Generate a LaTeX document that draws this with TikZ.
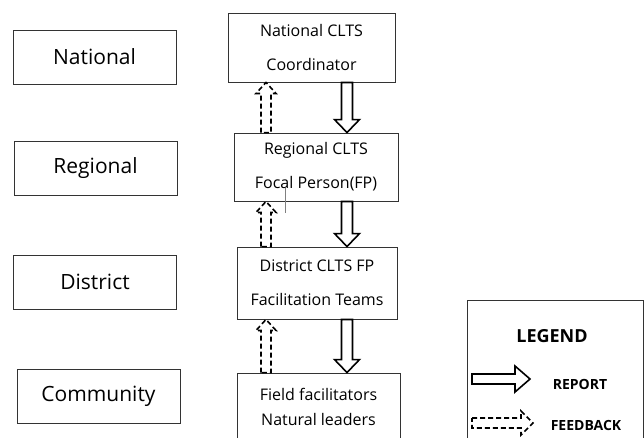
\documentclass[tikz,border=0pt]{standalone}
\usepackage{fontspec}
\setmainfont{Open Sans}
\usetikzlibrary{calc}

% hollow block arrow: [style]{tail}{tip}{shaft half}{head half}{head length}
\newcommand{\blockarrow}[6][]{%
  \coordinate (ba) at ($(#3)!#6pt!(#2)$);
  \draw[#1] ($(#2)!#4pt!90:(#3)$) -- ($(ba)!#4pt!90:(#3)$) -- ($(ba)!#5pt!90:(#3)$) -- (#3)
    -- ($(ba)!#5pt!-90:(#3)$) -- ($(ba)!#4pt!-90:(#3)$) -- ($(#2)!#4pt!-90:(#3)$) -- cycle;
}

\begin{document}
\begin{tikzpicture}[x=1pt, y=-1pt,
  levelbox/.style={draw=black!80, line width=0.9pt, minimum width=163pt,
    minimum height=54pt, font=\fontsize{21}{24}\selectfont},
  unitbox/.style={draw=black!80, line width=0.9pt, align=center,
    font=\fontsize{16}{34}\selectfont},
  report/.style={draw=black, line width=1.6pt, line join=miter},
  feedback/.style={report, dash pattern=on 5pt off 3pt}]
  \clip (0,0) rectangle (644,437);

  % levels
  \node[levelbox] (lnat) at (94.5,57) {National};
  \node[levelbox] (lreg) at (95.5,168) {Regional};
  \node[levelbox] (ldis) at (95,282) {District};
  \node[levelbox] (lcom) at (98.5,396) {Community};

  % units
  \node[unitbox, minimum width=167pt, minimum height=69pt] (natc) at (311.5,47.5)
    {National CLTS\\Coordinator};
  \node[unitbox, minimum width=164pt, minimum height=68pt] (regc) at (316,167)
    {Regional CLTS\\Focal Person(FP)};
  \node[unitbox, minimum width=160pt, minimum height=72pt] (disc) at (317,283)
    {District CLTS FP\\Facilitation Teams};
  \node[unitbox, minimum width=163pt, minimum height=68pt,
    font=\fontsize{16}{25}\selectfont] (fldc) at (318.5,407)
    {Field facilitators\\Natural leaders};
  \draw[gray, thin] (285,188) -- (285,213);

  % arrows
  \coordinate (rx) at (347,0);
  \coordinate (fx) at (266,0);
  \blockarrow[report]{natc.south -| rx}{regc.north -| rx}{5.5}{12.5}{13}
  \blockarrow[report]{regc.south -| rx}{disc.north -| rx}{5.5}{12.5}{13}
  \blockarrow[report]{disc.south -| rx}{fldc.north -| rx}{5.5}{12.5}{13}
  \blockarrow[feedback]{regc.north -| fx}{natc.south -| fx}{5}{10}{11}
  \blockarrow[feedback]{disc.north -| fx}{regc.south -| fx}{5}{10}{11}
  \blockarrow[feedback]{fldc.north -| fx}{disc.south -| fx}{5}{10}{11}

  % legend
  \node[draw=black!80, line width=0.9pt, minimum width=176pt, minimum height=170pt]
    (legend) at (555,385) {};
  \node[font=\fontsize{18}{20}\selectfont\bfseries] (legtitle) at (552,336) {LEGEND};
  \coordinate (rep-a) at (472,379);
  \coordinate (rep-b) at (530,379);
  \coordinate (fb-a) at (472,423);
  \coordinate (fb-b) at (533,423);
  \blockarrow[report]{rep-a}{rep-b}{5}{13}{15}
  \blockarrow[feedback]{fb-a}{fb-b}{5}{12}{12}
  \node[font=\fontsize{14}{16}\selectfont\bfseries] (reptext) at (580,384) {REPORT};
  \node[font=\fontsize{14}{16}\selectfont\bfseries] (fbtext) at (586,425) {FEEDBACK};
\end{tikzpicture}
\end{document}
